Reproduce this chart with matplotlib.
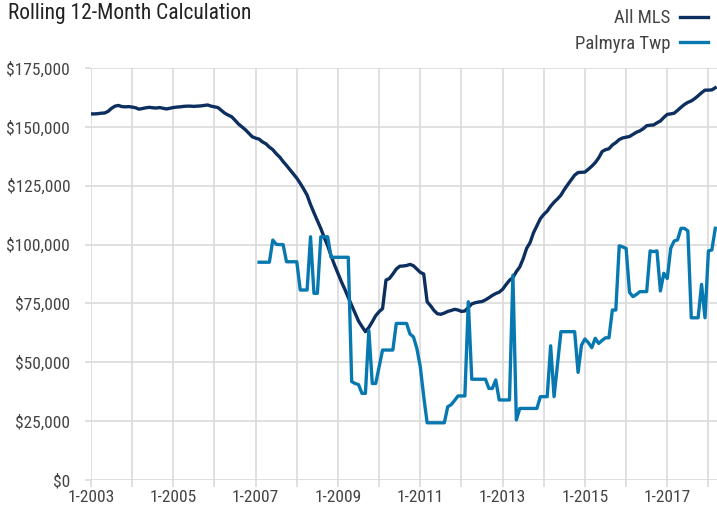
import numpy as np
import matplotlib
matplotlib.use('Agg')
import matplotlib.pyplot as plt
from matplotlib import font_manager

# monthly rolling 12-month median price, in $ thousands
# All MLS: Jan 2003 .. Mar 2018
all_mls_2003 = [155.5, 155.5, 155.6, 155.8, 155.9, 156.6, 157.9, 158.8, 159.1, 158.6, 158.5, 158.6]
all_mls_2004 = [158.4, 158.1, 157.5, 157.8, 158.1, 158.3, 158.1, 158.0, 158.2, 157.9, 157.6, 157.9]
all_mls_2005 = [158.2, 158.4, 158.5, 158.7, 158.8, 158.8, 158.7, 158.8, 158.9, 159.1, 159.3, 158.8]
all_mls_2006 = [158.5, 158.2, 157.0, 155.8, 155.0, 154.3, 152.8, 151.2, 150.0, 148.8, 147.3, 145.8]
all_mls_2007 = [145.2, 144.8, 143.6, 142.8, 141.4, 140.3, 138.6, 137.2, 135.3, 133.6, 131.8, 130.0]
all_mls_2008 = [128.2, 126.0, 123.6, 121.0, 117.0, 113.5, 110.2, 106.8, 103.0, 99.5, 95.2, 91.3]
all_mls_2009 = [87.8, 84.2, 81.0, 77.5, 74.2, 70.8, 67.5, 65.2, 63.0, 64.8, 67.2, 69.8]
all_mls_2010 = [71.5, 72.8, 84.9, 85.6, 87.5, 89.6, 90.8, 90.9, 91.1, 91.6, 91.0, 89.6]
all_mls_2011 = [88.2, 87.5, 75.7, 74.0, 72.0, 70.6, 70.4, 70.9, 71.6, 72.0, 72.5, 72.2]
all_mls_2012 = [71.6, 71.8, 73.3, 74.8, 75.3, 75.6, 75.8, 76.5, 77.4, 78.4, 79.2, 79.8]
all_mls_2013 = [81.0, 83.0, 84.8, 86.0, 88.5, 90.5, 94.0, 98.4, 100.8, 105.0, 108.0, 111.0]
all_mls_2014 = [112.8, 114.2, 116.3, 118.0, 119.4, 121.0, 123.4, 125.5, 127.5, 129.5, 130.6, 130.7]
all_mls_2015 = [130.8, 132.0, 133.3, 134.8, 136.8, 139.5, 140.3, 140.7, 142.3, 143.3, 144.6, 145.3]
all_mls_2016 = [145.6, 145.9, 146.8, 147.7, 148.3, 149.2, 150.5, 150.7, 150.8, 151.7, 152.5, 154.0]
all_mls_2017 = [155.3, 155.5, 155.8, 157.0, 158.3, 159.5, 160.4, 161.0, 162.0, 163.2, 164.5, 165.6]
all_mls_2018 = [165.6, 165.7, 166.6]

# Palmyra Twp: Feb 2007 .. Mar 2018
palmyra_2007 = [92.5, 92.5, 92.5, 92.5, 101.9, 100.1, 100.0, 100.0, 92.7, 92.7, 92.7]
palmyra_2008 = [92.7, 80.7, 80.7, 80.7, 103.3, 79.3, 79.3, 103.3, 103.3, 103.3, 94.6, 94.6]
palmyra_2009 = [94.6, 94.6, 94.6, 94.6, 41.8, 41.0, 40.5, 36.8, 36.8, 63.5, 41.0, 41.0]
palmyra_2010 = [48.0, 55.2, 55.2, 55.2, 55.2, 66.5, 66.5, 66.5, 66.5, 62.0, 60.8, 55.9]
palmyra_2011 = [48.1, 35.4, 24.3, 24.3, 24.3, 24.3, 24.3, 24.3, 31.1, 32.0, 33.8, 35.7]
palmyra_2012 = [35.7, 35.7, 75.7, 42.8, 42.8, 42.8, 42.8, 42.8, 38.9, 38.9, 42.5, 34.0]
palmyra_2013 = [34.0, 34.0, 34.0, 87.0, 25.5, 30.4, 30.4, 30.4, 30.4, 30.4, 30.4, 35.4]
palmyra_2014 = [35.4, 35.4, 57.0, 35.4, 49.0, 63.0, 63.0, 63.0, 63.0, 63.0, 45.7, 57.3]
palmyra_2015 = [59.9, 58.3, 56.2, 60.2, 58.0, 59.3, 60.4, 60.4, 72.2, 72.2, 99.5, 99.0]
palmyra_2016 = [98.4, 79.7, 77.9, 78.8, 80.0, 80.0, 80.0, 97.3, 97.0, 97.3, 80.3, 87.8]
palmyra_2017 = [85.6, 98.4, 101.5, 102.0, 106.9, 106.9, 105.8, 68.9, 68.9, 68.9, 83.1, 68.9]
palmyra_2018 = [97.3, 97.7, 106.9]

first_year = 2003
palmyra_start = 49  # months after Jan 2003
years = list(range(2003, 2019))
tick_labels = [f'1-{y}' if y % 2 == 1 else '' for y in years]

all_mls = np.array(all_mls_2003 + all_mls_2004 + all_mls_2005 + all_mls_2006 + all_mls_2007
                   + all_mls_2008 + all_mls_2009 + all_mls_2010 + all_mls_2011 + all_mls_2012
                   + all_mls_2013 + all_mls_2014 + all_mls_2015 + all_mls_2016 + all_mls_2017
                   + all_mls_2018) * 1000
palmyra = np.array(palmyra_2007 + palmyra_2008 + palmyra_2009 + palmyra_2010 + palmyra_2011
                   + palmyra_2012 + palmyra_2013 + palmyra_2014 + palmyra_2015 + palmyra_2016
                   + palmyra_2017 + palmyra_2018) * 1000

# pick a narrow face if one is around, else plain Liberation Sans a bit smaller
fonts = font_manager.fontManager.ttflist
names = {f.name for f in fonts}
narrow = None
for n in ['Liberation Sans Narrow', 'Roboto Condensed', 'Open Sans Condensed', 'Noto Sans Condensed']:
    if n in names:
        narrow = (n, 'normal')
        break
if narrow is None:
    for f in fonts:
        if f.name in ('DejaVu Sans', 'Noto Sans', 'Roboto', 'Open Sans') and f.stretch == 'condensed':
            narrow = (f.name, 'condensed')
            break
if narrow is not None:
    plt.rcParams['font.family'] = [narrow[0], 'DejaVu Sans']
    plt.rcParams['font.stretch'] = narrow[1]
    tick_fs, title_fs, leg_fs = 12.5, 15.5, 13.5
else:
    plt.rcParams['font.family'] = ['Liberation Sans', 'DejaVu Sans']
    tick_fs, title_fs, leg_fs = 11, 14, 12.5

x_mls = np.arange(len(all_mls))
x_pal = np.arange(len(palmyra)) + palmyra_start

grid_c = '#dadada'
navy = '#0c2f5f'
blue = '#0879b0'

fig = plt.figure(figsize=(7.17, 5.15), dpi=100)
ax = fig.add_axes([91 / 717, 35 / 515, 626 / 717, 412 / 515])

ax.plot(x_mls, all_mls, color=navy, lw=2.4, label='All MLS', zorder=3)
ax.plot(x_pal, palmyra, color=blue, lw=2.4, label='Palmyra Twp', zorder=3)

ax.set_xlim(0, 182.5)
ax.set_ylim(0, 175000)
ax.set_xticks([(y - first_year) * 12 for y in years])
ax.set_xticklabels(tick_labels)
ax.set_yticks(np.arange(0, 175001, 25000))
ax.yaxis.set_major_formatter(matplotlib.ticker.FuncFormatter(lambda v, p: f'${v:,.0f}'))

ax.grid(True, color=grid_c, lw=1.2)
ax.set_axisbelow(True)
for s in ax.spines.values():
    s.set_visible(False)
ax.tick_params(axis='x', length=5, width=1.2, color=grid_c, pad=2.5, labelsize=tick_fs, labelcolor='#444444')
ax.tick_params(axis='y', length=4.5, width=1.2, color=grid_c, pad=10.5, labelsize=tick_fs, labelcolor='#444444')

fig.text(0.011, 0.995, 'Rolling 12-Month Calculation', fontsize=title_fs, color='#222222', va='top', ha='left')

fig.legend(loc='upper right', bbox_to_anchor=(1.003, 1.004), frameon=False, markerfirst=False,
           fontsize=leg_fs, handlelength=1.5, handletextpad=0.5, labelspacing=0.4,
           labelcolor='#444444', borderaxespad=0.2)

fig.savefig('out.png', dpi=100)
